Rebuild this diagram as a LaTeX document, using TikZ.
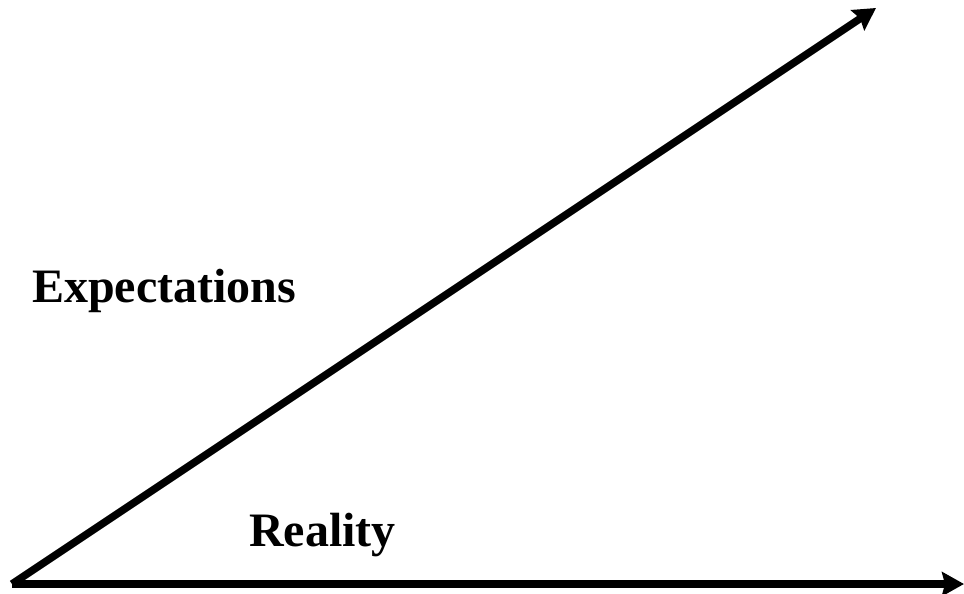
\documentclass[tikz,border=0pt]{standalone}
\usepackage{fontspec}
\setmainfont{Liberation Serif}
\usetikzlibrary{arrows.meta}
\begin{document}
\begin{tikzpicture}[x=1pt,y=-1pt,
  axis/.style={line width=7.5pt,-{Stealth[length=22pt,width=24pt,inset=3pt]}},
  lbl/.style={font=\fontsize{48}{52}\selectfont\bfseries,inner sep=0pt,anchor=base west}]
\useasboundingbox (0,0) rectangle (964,594);
\coordinate (o) at (12,584);
\coordinate (h) at (964,584);
\coordinate (d) at (876,8);
\draw[axis] (o) -- (h);
\draw[axis] (o) -- (d);
\node[lbl] (exp) at (32,302) {Expectations};
\node[lbl] (real) at (249,546) {Reality};
\end{tikzpicture}
\end{document}
